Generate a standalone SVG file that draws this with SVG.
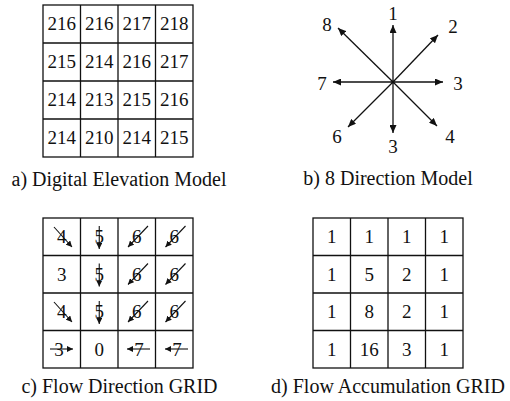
<svg xmlns="http://www.w3.org/2000/svg" width="510" height="401" viewBox="0 0 510 401" font-family="'Liberation Serif', 'Times New Roman', 'DejaVu Serif', serif">
<style>
  .g{fill:none;stroke:#111;stroke-width:1.3}
  text{font-family:'Liberation Serif','Times New Roman','DejaVu Serif',serif;fill:#111;text-anchor:middle}
  .n{font-size:19px}
  .cap{font-size:20px}
  .a{fill:none;stroke:#111;stroke-width:1.3;marker-end:url(#ah)}
  .s{fill:none;stroke:#111;stroke-width:1.1;marker-end:url(#sh)}
</style>
<defs>
  <marker id="ah" markerUnits="userSpaceOnUse" markerWidth="9" markerHeight="7" refX="8" refY="3.5" orient="auto">
    <path d="M0,0 L8,3.5 L0,7 Z" fill="#111"/>
  </marker>
  <marker id="sh" markerUnits="userSpaceOnUse" markerWidth="7" markerHeight="6" refX="6" refY="3" orient="auto">
    <path d="M0,0 L6,3 L0,6 Z" fill="#111"/>
  </marker>
</defs>
<rect width="510" height="401" fill="#fff"/>

<g id="dem">
  <rect class="g" x="43" y="5" width="150" height="152"/>
  <path class="g" d="M80.5,5V157M118,5V157M155.5,5V157M43,43H193M43,81H193M43,119H193"/>
  <g class="n">
    <text x="61.75" y="29.5">216</text><text x="99.25" y="29.5">216</text><text x="136.75" y="29.5">217</text><text x="174.25" y="29.5">218</text>
    <text x="61.75" y="68">215</text><text x="99.25" y="68">214</text><text x="136.75" y="68">216</text><text x="174.25" y="68">217</text>
    <text x="61.75" y="106">214</text><text x="99.25" y="106">213</text><text x="136.75" y="106">215</text><text x="174.25" y="106">216</text>
    <text x="61.75" y="144">214</text><text x="99.25" y="144">210</text><text x="136.75" y="144">214</text><text x="174.25" y="144">215</text>
  </g>
  <text class="cap" x="119" y="186">a) Digital Elevation Model</text>
</g>

<g id="direction-model">
  <g class="n">
    <text x="393" y="20">1</text>
    <text x="453" y="33">2</text>
    <text x="458" y="90">3</text>
    <text x="450" y="143">4</text>
    <text x="393" y="153">3</text>
    <text x="337" y="143">6</text>
    <text x="322" y="90">7</text>
    <text x="327" y="31">8</text>
  </g>
  <text class="cap" x="388" y="185">b) 8 Direction Model</text>
</g>

<g id="flow-direction">
  <rect class="g" x="43" y="218" width="150" height="150"/>
  <path class="g" d="M80.5,218V368M118,218V368M155.5,218V368M43,255.5H193M43,293H193M43,330.5H193"/>
  <g class="n">
    <text x="61.75" y="243">4</text><text x="99.25" y="243">5</text><text x="136.75" y="243">6</text><text x="174.25" y="243">6</text>
    <text x="61.75" y="280.5">3</text><text x="99.25" y="280.5">5</text><text x="136.75" y="280.5">6</text><text x="174.25" y="280.5">6</text>
    <text x="61.75" y="318">4</text><text x="99.25" y="318">5</text><text x="136.75" y="318">6</text><text x="174.25" y="318">6</text>
    <text x="59" y="355.5">3</text><text x="99.25" y="355.5">0</text><text x="139" y="355.5">7</text><text x="177" y="355.5">7</text>
  </g>
  <text class="cap" x="119.5" y="393">c) Flow Direction GRID</text>
</g>

<g id="flow-accumulation">
  <rect class="g" x="313" y="218" width="150" height="150"/>
  <path class="g" d="M350.5,218V368M388,218V368M425.5,218V368M313,255.5H463M313,293H463M313,330.5H463"/>
  <g class="n">
    <text x="331.75" y="243">1</text><text x="369.25" y="243">1</text><text x="406.75" y="243">1</text><text x="444.25" y="243">1</text>
    <text x="331.75" y="280.5">1</text><text x="369.25" y="280.5">5</text><text x="406.75" y="280.5">2</text><text x="444.25" y="280.5">1</text>
    <text x="331.75" y="318">1</text><text x="369.25" y="318">8</text><text x="406.75" y="318">2</text><text x="444.25" y="318">1</text>
    <text x="331.75" y="355.5">1</text><text x="369.25" y="355.5">16</text><text x="406.75" y="355.5">3</text><text x="444.25" y="355.5">1</text>
  </g>
  <text class="cap" x="388" y="393">d) Flow Accumulation GRID</text>
</g>

<g id="connectors">
  <line class="a" x1="393" y1="82" x2="393" y2="25"/>
  <line class="a" x1="393" y1="82" x2="438" y2="35"/>
  <line class="a" x1="393" y1="82" x2="443" y2="82"/>
  <line class="a" x1="393" y1="82" x2="437" y2="126"/>
  <line class="a" x1="393" y1="82" x2="393" y2="133"/>
  <line class="a" x1="393" y1="82" x2="348" y2="127"/>
  <line class="a" x1="393" y1="82" x2="333" y2="82"/>
  <line class="a" x1="393" y1="82" x2="338" y2="28"/>
  <circle cx="393" cy="82" r="1.5" fill="#111"/>

  <line class="s" x1="54" y1="227" x2="72" y2="247"/>
  <line class="s" x1="99.25" y1="226" x2="99.25" y2="249"/>
  <line class="s" x1="148" y1="226" x2="128" y2="247"/>
  <line class="s" x1="185.5" y1="226" x2="165.5" y2="247"/>

  <line class="s" x1="99.25" y1="263.5" x2="99.25" y2="286.5"/>
  <line class="s" x1="148" y1="263.5" x2="128" y2="284.5"/>
  <line class="s" x1="185.5" y1="263.5" x2="165.5" y2="284.5"/>

  <line class="s" x1="54" y1="302" x2="72" y2="322"/>
  <line class="s" x1="99.25" y1="301" x2="99.25" y2="324"/>
  <line class="s" x1="148" y1="301" x2="128" y2="322"/>
  <line class="s" x1="185.5" y1="301" x2="165.5" y2="322"/>

  <line class="s" x1="50" y1="349" x2="73" y2="349"/>
  <line class="s" x1="150" y1="349" x2="127" y2="349"/>
  <line class="s" x1="188" y1="349" x2="165" y2="349"/>
</g>
</svg>
